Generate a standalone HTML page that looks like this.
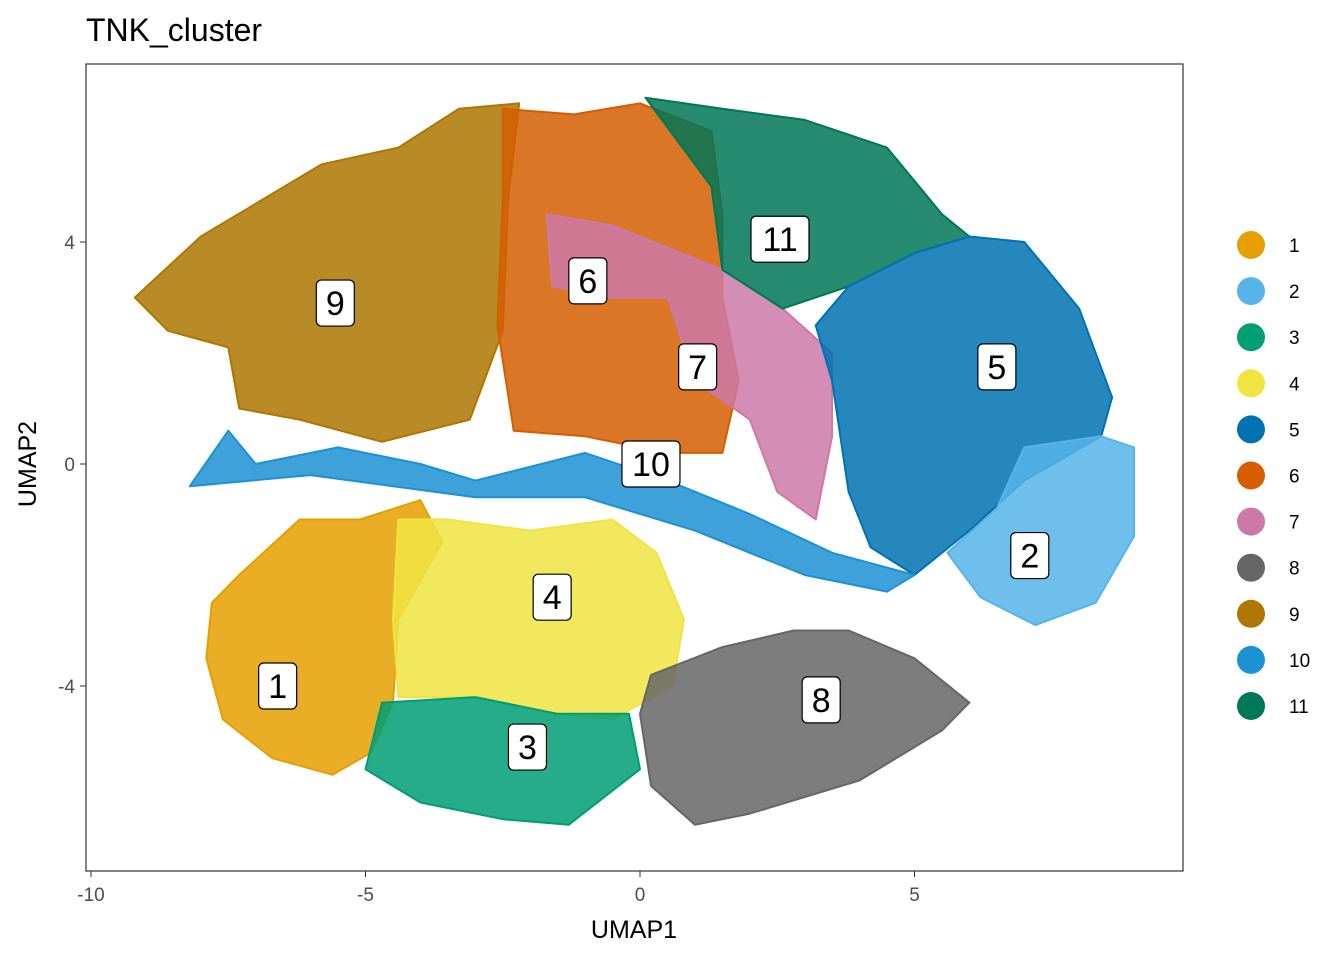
<!DOCTYPE html>
<html><head><meta charset="utf-8"><style>
body{margin:0;background:#fff;font-family:"Liberation Sans",sans-serif}
text{font-family:"Liberation Sans",sans-serif}
</style></head><body>
<svg id="chart" width="1344" height="960">
<text x="86" y="41" font-size="32" fill="#000">TNK_cluster</text>
<rect x="86" y="64" width="1097" height="807" fill="#fff" stroke="#333" stroke-width="1.2"/>
<g id="clusters"></g><g id="labels"></g><g id="axes"></g><g id="legend"></g>
<text x="634" y="938" font-size="25" text-anchor="middle">UMAP1</text>
<text transform="translate(36,464) rotate(-90)" font-size="25" text-anchor="middle">UMAP2</text>
</svg>
<script>
const clusterIds=["1","2","3","4","5","6","7","8","9","10","11"];
const clusterColors=["#E69F00","#56B4E9","#009E73","#F0E442","#0072B2","#D55E00","#CC79A7","#666666","#AD7700","#1C91D4","#007756"];
const drawOrder=["9","6","7","11","5","2","10","1","4","3","8"];
const shape9=[[-9.2,3.0],[-8.0,4.1],[-5.8,5.4],[-4.4,5.7],[-3.3,6.4],[-2.2,6.5],[-2.4,4.8],[-2.5,2.4],[-3.1,0.8],[-4.7,0.4],[-6.2,0.8],[-7.3,1.0],[-7.5,2.1],[-8.6,2.4]];
const shape6=[[-2.5,6.4],[-1.2,6.3],[0,6.5],[1.3,6.0],[1.5,4.5],[1.5,3.0],[1.8,1.5],[1.5,0.2],[0.5,0.2],[-1.0,0.5],[-2.3,0.6],[-2.6,2.5],[-2.5,4.8]];
const shape7=[[-1.7,4.5],[-0.5,4.3],[1.5,3.5],[2.6,2.8],[3.5,2.0],[3.5,0.5],[3.2,-1.0],[2.5,-0.5],[2.0,0.8],[1.0,1.5],[0.5,3.0],[-0.5,3.0],[-1.6,3.2]];
const shape11=[[0.1,6.6],[1.5,6.4],[3.0,6.2],[4.5,5.7],[5.5,4.5],[6.0,4.1],[5.0,3.8],[3.8,3.2],[2.6,2.8],[1.5,3.5],[1.3,5.0]];
const shape5=[[3.8,3.2],[5.0,3.8],[6.0,4.1],[7.0,4.0],[8.0,2.8],[8.6,1.2],[8.4,0.5],[7.0,-0.3],[6.0,-1.2],[5.0,-2.0],[4.2,-1.5],[3.8,-0.5],[3.5,1.5],[3.2,2.5]];
const shape2=[[7.0,0.3],[8.4,0.5],[9.0,0.3],[9.0,-1.3],[8.3,-2.5],[7.2,-2.9],[6.2,-2.4],[5.6,-1.6],[6.5,-0.8]];
const shape10=[[-8.2,-0.4],[-7.5,0.6],[-7.0,0.0],[-5.5,0.3],[-4.0,0.0],[-3.0,-0.3],[-1.0,0.2],[0.5,-0.3],[2.0,-0.9],[3.5,-1.6],[5.0,-2.0],[4.5,-2.3],[3.0,-2.0],[1.0,-1.2],[-1.0,-0.6],[-3.0,-0.6],[-6.0,-0.2]];
const shape1=[[-7.8,-2.5],[-7.3,-2.0],[-6.2,-1.0],[-5.1,-1.0],[-4.0,-0.65],[-3.6,-1.4],[-4.4,-2.8],[-4.5,-4.3],[-4.9,-5.2],[-5.6,-5.6],[-6.7,-5.3],[-7.6,-4.6],[-7.9,-3.5]];
const shape4=[[-4.4,-1.0],[-3.5,-1.0],[-2.0,-1.2],[-0.5,-1.0],[0.3,-1.6],[0.8,-2.8],[0.6,-4.0],[-0.5,-4.6],[-1.5,-4.5],[-3.0,-4.2],[-4.4,-4.2],[-4.5,-2.8]];
const shape3=[[-4.7,-4.3],[-3.0,-4.2],[-1.5,-4.5],[-0.2,-4.5],[0,-5.5],[-1.3,-6.5],[-2.5,-6.4],[-4.0,-6.1],[-5.0,-5.5]];
const shape8=[[0.2,-3.8],[1.5,-3.3],[2.8,-3.0],[3.8,-3.0],[5.0,-3.5],[6.0,-4.3],[5.5,-4.8],[4.0,-5.7],[2.0,-6.3],[1.0,-6.5],[0.2,-5.8],[0,-4.5]];
const shapes={"1":shape1,"2":shape2,"3":shape3,"4":shape4,"5":shape5,"6":shape6,"7":shape7,"8":shape8,"9":shape9,"10":shape10,"11":shape11};
const labelX=[-6.6,7.1,-2.05,-1.6,6.5,-0.95,1.05,3.3,-5.55,0.2,2.55];
const labelY=[-4.0,-1.65,-5.1,-2.4,1.75,3.3,1.75,-4.25,2.9,0.0,4.05];
const xTicks=[-10,-5,0,5];
const yTicks=[-4,0,4];
const NS="http://www.w3.org/2000/svg";
const sx=v=>640+v*54.9;
const sy=v=>464-v*55.5;
function mk(t,a,p){const e=document.createElementNS(NS,t);for(const k in a)e.setAttribute(k,a[k]);p.appendChild(e);return e;}
const gC=document.getElementById('clusters');
drawOrder.forEach(id=>{
  const col=clusterColors[clusterIds.indexOf(id)];
  const pts=shapes[id].map(p=>sx(p[0]).toFixed(1)+','+sy(p[1]).toFixed(1)).join(' ');
  const pg=mk('polygon',{points:pts,fill:col,stroke:col,'stroke-width':2,'stroke-linejoin':'round','fill-opacity':0.85},gC);
  
  
});
const gL=document.getElementById('labels');
clusterIds.forEach((id,i)=>{
  const w=id.length>1?58:38;
  const g=mk('g',{},gL);
  
  
  mk('rect',{x:sx(labelX[i])-w/2,y:sy(labelY[i])-23,width:w,height:46,rx:5,fill:'#fff',stroke:'#000','stroke-width':1.2},g);
  const t=mk('text',{x:sx(labelX[i]),y:sy(labelY[i])+12,'text-anchor':'middle','font-size':34},g);
  t.textContent=id;
});
const gA=document.getElementById('axes');
xTicks.forEach(v=>{
  mk('line',{x1:sx(v),x2:sx(v),y1:871,y2:877,stroke:'#333'},gA);
  const t=mk('text',{x:sx(v),y:901,'text-anchor':'middle','font-size':19,fill:'#4d4d4d'},gA);
  
  
  t.textContent=v;
});
yTicks.forEach(v=>{
  mk('line',{x1:80,x2:86,y1:sy(v),y2:sy(v),stroke:'#333'},gA);
  const t=mk('text',{x:75,y:sy(v)+7,'text-anchor':'end','font-size':19,fill:'#4d4d4d'},gA);
  
  
  t.textContent=v;
});
const gG=document.getElementById('legend');
clusterIds.forEach((id,i)=>{
  const y=245+i*46.1;
  const g=mk('g',{},gG);
  
  
  mk('circle',{cx:1251,cy:y,r:14,fill:clusterColors[i]},g);
  const t=mk('text',{x:1289,y:y+7,'font-size':19},g);
  t.textContent=id;
});
</script>
</body></html>
